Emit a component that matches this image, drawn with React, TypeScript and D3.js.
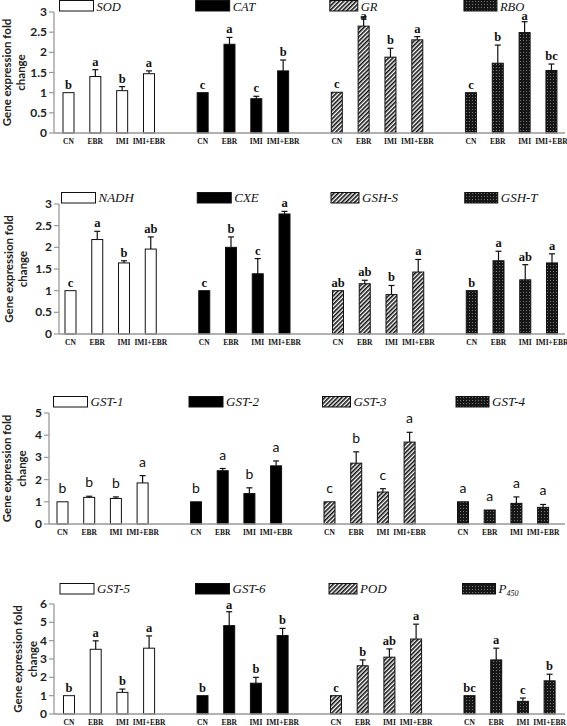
import React from "react";
import * as d3 from "d3";

const treatments = ["CN", "EBR", "IMI", "IMI+EBR"];

const genes1 = ["SOD", "CAT", "GR", "RBO"];
const means1 = [[1, 1.4, 1.05, 1.47], [1, 2.2, 0.85, 1.54], [1.01, 2.65, 1.88, 2.31], [1, 1.73, 2.49, 1.55]];
const errs1 = [[0, 0.17, 0.1, 0.07], [0, 0.17, 0.06, 0.27], [0, 0.23, 0.22, 0.08], [0, 0.45, 0.27, 0.16]];
const letters1 = [["b", "a", "b", "a"], ["c", "a", "c", "b"], ["c", "a", "b", "a"], ["c", "b", "a", "bc"]];

const genes2 = ["NADH", "CXE", "GSH-S", "GSH-T"];
const means2 = [[1, 2.18, 1.64, 1.96], [1, 2.0, 1.39, 2.77], [1, 1.16, 0.91, 1.43], [1, 1.69, 1.25, 1.64]];
const errs2 = [[0, 0.19, 0.05, 0.28], [0, 0.24, 0.35, 0.06], [0, 0.08, 0.21, 0.29], [0, 0.22, 0.35, 0.21]];
const letters2 = [["c", "a", "b", "ab"], ["c", "b", "c", "a"], ["ab", "ab", "b", "a"], ["b", "a", "ab", "a"]];

const genes3 = ["GST-1", "GST-2", "GST-3", "GST-4"];
const means3 = [[1, 1.2, 1.15, 1.85], [1, 2.4, 1.37, 2.62], [1, 2.74, 1.44, 3.69], [1, 0.63, 0.93, 0.75]];
const errs3 = [[0, 0.05, 0.07, 0.33], [0, 0.1, 0.26, 0.22], [0, 0.51, 0.15, 0.44], [0, 0, 0.29, 0.13]];
const letters3 = [["b", "b", "b", "a"], ["b", "a", "b", "a"], ["c", "b", "c", "a"], ["a", "a", "a", "a"]];

const genes4 = ["GST-5", "GST-6", "POD", "P450"];
const means4 = [[1, 3.53, 1.18, 3.59], [1, 4.82, 1.68, 4.28], [1, 2.63, 3.1, 4.09], [1, 2.95, 0.69, 1.81]];
const errs4 = [[0, 0.46, 0.18, 0.67], [0, 0.76, 0.32, 0.39], [0, 0.32, 0.45, 0.81], [0, 0.64, 0.18, 0.36]];
const letters4 = [["b", "a", "b", "a"], ["b", "a", "b", "b"], ["c", "b", "ab", "a"], ["bc", "a", "c", "b"]];

const yMax = [3, 3, 5, 6];
const yStep = [0.5, 0.5, 1, 1];

const fills = ["white", "black", "url(#hatch)", "url(#dots)"];
const legendWidths = [34, 34, 28, 33];

const layouts = [
  { axisX: 54, y0: 133, yTop: 12, c0: 68.5, slot: 26.83, legendTop: 0, labelBase: 11, labelSize: 12.5, t1: 11, t2: 25, sansLetters: false, letterGap: 4, letterMin: 20 },
  { axisX: 59, y0: 334, yTop: 204, c0: 70.5, slot: 26.75, legendTop: 192, labelBase: 202, labelSize: 13, t1: 13, t2: 27, sansLetters: false, letterGap: 4, letterMin: 207 },
  { axisX: 49, y0: 524, yTop: 413, c0: 62.5, slot: 26.7, legendTop: 396, labelBase: 406, labelSize: 13, t1: 11, t2: 26, sansLetters: true, letterGap: 9, letterMin: 400 },
  { axisX: 54, y0: 714, yTop: 604, c0: 69, slot: 26.7, legendTop: 583, labelBase: 593, labelSize: 13, t1: 22, t2: 37, sansLetters: false, letterGap: 4, letterMin: 609 },
];

const panels = [
  { genes: genes1, means: means1, errs: errs1, letters: letters1 },
  { genes: genes2, means: means2, errs: errs2, letters: letters2 },
  { genes: genes3, means: means3, errs: errs3, letters: letters3 },
  { genes: genes4, means: means4, errs: errs4, letters: letters4 },
];

const SERIF = "'Liberation Serif', 'Times New Roman', serif";
const SANS = "Lato, 'Open Sans', sans-serif";

function GeneLabel({ name, x, y, size }: { name: string; x: number; y: number; size: number }) {
  if (name === "P450") {
    return (
      <text x={x} y={y} fontFamily={SERIF} fontStyle="italic" fontSize={size} fill="#111">
        P<tspan fontSize={8} dy={3}>450</tspan>
      </text>
    );
  }
  return (
    <text x={x} y={y} fontFamily={SERIF} fontStyle="italic" fontSize={size} fill="#111">
      {name}
    </text>
  );
}

function Panel({ idx }: { idx: number }) {
  const L = layouts[idx];
  const P = panels[idx];
  const max = yMax[idx];
  const step = yStep[idx];
  const y = d3.scaleLinear().domain([0, max]).range([L.y0, L.yTop]);
  const x = d3.scaleLinear().domain([0, 18]).range([L.c0, L.c0 + 18 * L.slot]);
  const ticks = d3.range(0, max + step / 2, step);
  const bw = 11;
  const midY = (L.y0 + L.yTop) / 2;
  return (
    <g>
      <text transform={`translate(${L.t1},${midY}) rotate(-90)`} textAnchor="middle" fontFamily={SANS} fontWeight={700} fontSize={11.5} fill="#222">
        Gene expression fold
      </text>
      <text transform={`translate(${L.t2},${midY}) rotate(-90)`} textAnchor="middle" fontFamily={SANS} fontWeight={700} fontSize={11.5} fill="#222">
        change
      </text>
      <line x1={L.axisX} x2={L.axisX} y1={L.y0} y2={L.yTop} stroke="#999" strokeWidth={1.3} />
      {ticks.map((t) => (
        <g key={t}>
          <line x1={L.axisX - 5} x2={L.axisX} y1={y(t)} y2={y(t)} stroke="#999" strokeWidth={1.2} />
          <text x={L.axisX - 7} y={y(t) + 4} textAnchor="end" fontFamily={SANS} fontWeight={700} fontSize={12} fill="#222">
            {String(+t.toFixed(1))}
          </text>
        </g>
      ))}
      {P.genes.map((gene, g) => {
        const lx = x(g * 5) - (g === 0 ? 9 : 7);
        return (
          <g key={gene}>
            <rect x={lx} y={L.legendTop + 0.5} width={legendWidths[g]} height={10.5} fill={fills[g]} stroke="#111" strokeWidth={1} />
            <GeneLabel name={gene} x={lx + legendWidths[g] + 3} y={L.labelBase} size={L.labelSize} />
            {treatments.map((tr, t) => {
              const cx = x(g * 5 + t);
              const m = P.means[g][t];
              const e = P.errs[g][t];
              const top = y(m);
              const et = y(m + e);
              const ly = Math.max(et - L.letterGap, L.letterMin);
              return (
                <g key={tr}>
                  <rect x={cx - bw / 2} y={top} width={bw} height={L.y0 - top} fill={fills[g]} stroke="#111" strokeWidth={1} />
                  {e > 0 && (
                    <g stroke="#111" strokeWidth={1.2}>
                      <line x1={cx} x2={cx} y1={top} y2={et} />
                      <line x1={cx - 3} x2={cx + 3} y1={et} y2={et} />
                    </g>
                  )}
                  <text
                    x={cx}
                    y={ly}
                    textAnchor="middle"
                    fontFamily={L.sansLetters ? SANS : SERIF}
                    fontWeight={L.sansLetters ? 400 : 700}
                    fontSize={L.sansLetters ? 14 : 12.5}
                    fill="#111"
                  >
                    {P.letters[g][t]}
                  </text>
                  <text x={cx} y={L.y0 + 11} textAnchor="middle" fontFamily={SERIF} fontWeight={700} fontSize={7.5} fill="#111">
                    {tr}
                  </text>
                </g>
              );
            })}
          </g>
        );
      })}
      <line x1={L.axisX} x2={565} y1={L.y0} y2={L.y0} stroke="#999" strokeWidth={1.5} />
    </g>
  );
}

export default function App() {
  return (
    <svg width={567} height={726} style={{ position: "absolute", left: 0, top: 0, background: "white" }}>
      <defs>
        <pattern id="hatch" width={3} height={3} patternUnits="userSpaceOnUse" patternTransform="rotate(45)">
          <rect width={3} height={3} fill="white" />
          <line x1={0.8} y1={0} x2={0.8} y2={3} stroke="#111" strokeWidth={1.6} />
        </pattern>
        <pattern id="dots" width={3} height={3} patternUnits="userSpaceOnUse">
          <rect width={3} height={3} fill="#161616" />
          <rect x={1} y={1} width={1} height={1} fill="#777" />
        </pattern>
      </defs>
      <rect width={567} height={726} fill="white" />
      {[0, 1, 2, 3].map((i) => (
        <Panel key={i} idx={i} />
      ))}
    </svg>
  );
}
